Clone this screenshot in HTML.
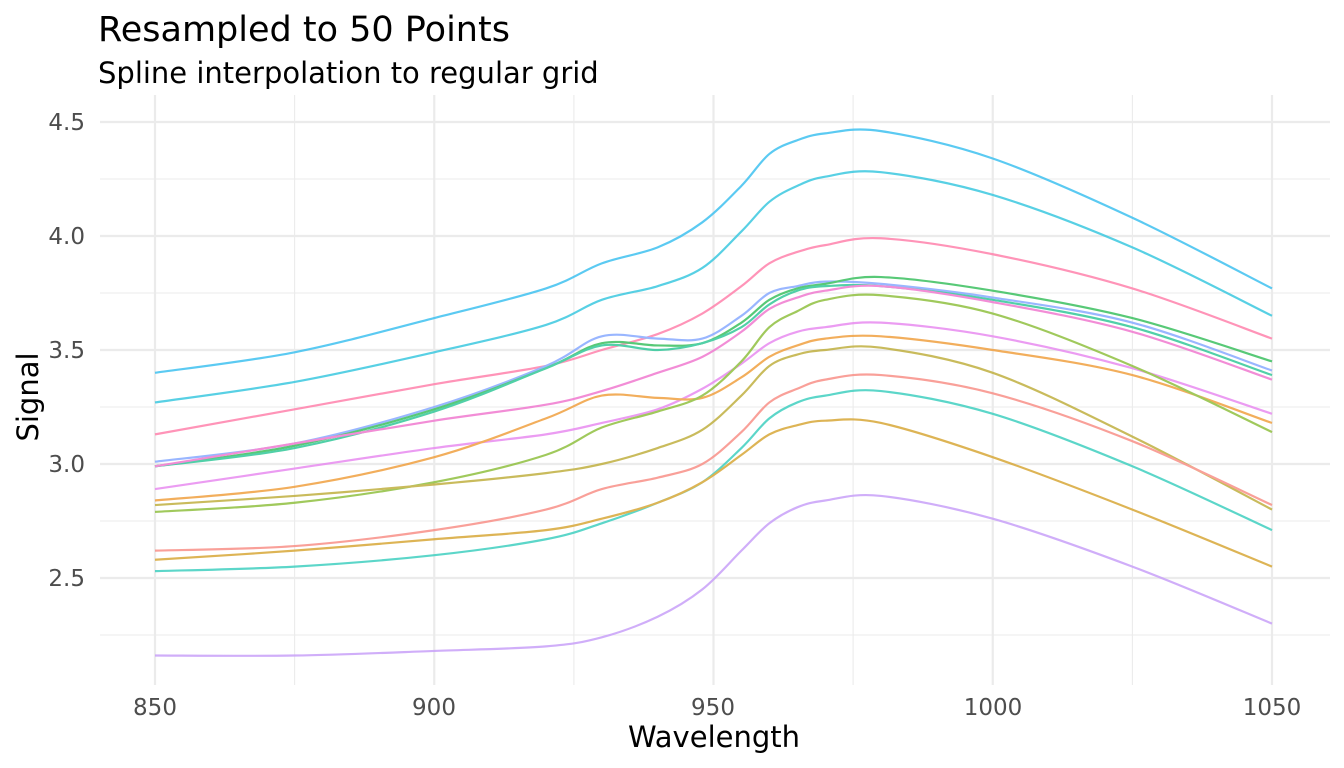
<!DOCTYPE html>
<html><head><meta charset="utf-8"><style>
html,body{margin:0;padding:0;background:#fff;}
svg{display:block;font-family:"DejaVu Sans","Liberation Sans",sans-serif;}
</style></head><body>
<svg id="s" width="1344" height="768" viewBox="0 0 1344 768" xmlns="http://www.w3.org/2000/svg">
<rect width="1344" height="768" fill="#fff"/>
<g id="grid"></g>
<g id="lines" fill="none" stroke-width="2.2" stroke-linejoin="round" opacity="0.85"></g>
<text x="98" y="41" font-size="35" fill="#000">Resampled to 50 Points</text>
<text x="98" y="83" font-size="29" fill="#000">Spline interpolation to regular grid</text>
<g font-size="23" fill="#4d4d4d" text-anchor="end">
<text x="85" y="130">4.5</text><text x="85" y="244">4.0</text><text x="85" y="358">3.5</text><text x="85" y="472">3.0</text><text x="85" y="586">2.5</text>
</g>
<g font-size="23" fill="#4d4d4d" text-anchor="middle">
<text x="155" y="715">850</text><text x="434" y="715">900</text><text x="713" y="715">950</text><text x="993" y="715">1000</text><text x="1272" y="715">1050</text>
</g>
<text x="714" y="747" font-size="29" text-anchor="middle" fill="#000">Wavelength</text>
<text transform="translate(38,397) rotate(-90)" font-size="29" text-anchor="middle" fill="#000">Signal</text>
</svg>
<script>
var NS="http://www.w3.org/2000/svg";
function X(w){return 155+(w-850)*5.585;}
function Y(v){return 578-(v-2.5)*228;}
var g=document.getElementById("grid");
function ln(x1,y1,x2,y2,w){var l=document.createElementNS(NS,"line");l.setAttribute("x1",x1);l.setAttribute("y1",y1);l.setAttribute("x2",x2);l.setAttribute("y2",y2);l.setAttribute("stroke","#ebebeb");l.setAttribute("stroke-width",w);g.appendChild(l);}
[875,925,975,1025].forEach(function(w){ln(X(w),95,X(w),685,1.1);});
[2.25,2.75,3.25,3.75,4.25].forEach(function(v){ln(100,Y(v),1330,Y(v),1.1);});
[850,900,950,1000,1050].forEach(function(w){ln(X(w),95,X(w),685,2.2);});
[2.5,3,3.5,4,4.5].forEach(function(v){ln(100,Y(v),1330,Y(v),2.2);});
var W=[850,875,900,920,930,940,948,955,960,965,970,980,1000,1025,1050];
var D=[
["#3FC1F0",[3.40,3.49,3.64,3.77,3.88,3.95,4.06,4.22,4.36,4.42,4.45,4.46,4.34,4.08,3.77]],
["#3BC8E0",[3.27,3.36,3.49,3.61,3.72,3.78,3.86,4.02,4.15,4.22,4.26,4.28,4.18,3.95,3.65]],
["#FF82AC",[3.13,3.24,3.35,3.43,3.50,3.57,3.66,3.78,3.88,3.93,3.96,3.99,3.92,3.77,3.55]],
["#88AAFF",[3.01,3.09,3.25,3.43,3.56,3.55,3.55,3.65,3.75,3.78,3.80,3.79,3.73,3.62,3.41]],
["#3CC060",[2.99,3.08,3.24,3.42,3.53,3.52,3.53,3.62,3.72,3.77,3.79,3.82,3.76,3.64,3.45]],
["#33C89A",[2.99,3.07,3.23,3.42,3.52,3.50,3.53,3.60,3.70,3.76,3.78,3.78,3.72,3.60,3.39]],
["#F07AD0",[2.99,3.09,3.19,3.26,3.32,3.40,3.47,3.58,3.68,3.73,3.76,3.78,3.71,3.58,3.37]],
["#E88BF0",[2.89,2.98,3.07,3.13,3.18,3.24,3.33,3.44,3.53,3.58,3.60,3.62,3.56,3.42,3.22]],
["#F0A040",[2.84,2.90,3.03,3.20,3.30,3.29,3.29,3.38,3.47,3.52,3.55,3.56,3.50,3.39,3.18]],
["#90C040",[2.79,2.83,2.92,3.04,3.16,3.23,3.30,3.45,3.60,3.67,3.72,3.74,3.66,3.43,3.14]],
["#C0B040",[2.82,2.86,2.91,2.96,3.00,3.07,3.15,3.30,3.43,3.48,3.50,3.51,3.40,3.12,2.80]],
["#F89088",[2.62,2.64,2.71,2.80,2.89,2.94,3.00,3.14,3.27,3.33,3.37,3.39,3.31,3.10,2.82]],
["#40D0C0",[2.53,2.55,2.60,2.67,2.74,2.83,2.92,3.07,3.20,3.27,3.30,3.32,3.22,2.99,2.71]],
["#D8A838",[2.58,2.62,2.67,2.71,2.76,2.83,2.92,3.04,3.13,3.17,3.19,3.18,3.03,2.80,2.55]],
["#C8A0F8",[2.16,2.16,2.18,2.20,2.24,2.33,2.45,2.62,2.74,2.81,2.84,2.86,2.76,2.55,2.30]]
];
var L=document.getElementById("lines");
D.forEach(function(s){
 var p=W.map(function(w,i){return [X(w),Y(s[1][i])];});
 var d="M"+p[0][0]+","+p[0][1];
 for(var i=0;i<p.length-1;i++){
  var p0=p[Math.max(0,i-1)],p1=p[i],p2=p[i+1],p3=p[Math.min(p.length-1,i+2)];
  var c1=[p1[0]+(p2[0]-p0[0])/6,p1[1]+(p2[1]-p0[1])/6];
  var c2=[p2[0]-(p3[0]-p1[0])/6,p2[1]-(p3[1]-p1[1])/6];
  d+=" C"+c1[0]+","+c1[1]+" "+c2[0]+","+c2[1]+" "+p2[0]+","+p2[1];
 }
 var e=document.createElementNS(NS,"path");e.setAttribute("d",d);e.setAttribute("stroke",s[0]);L.appendChild(e);
});
</script>
</body></html>
